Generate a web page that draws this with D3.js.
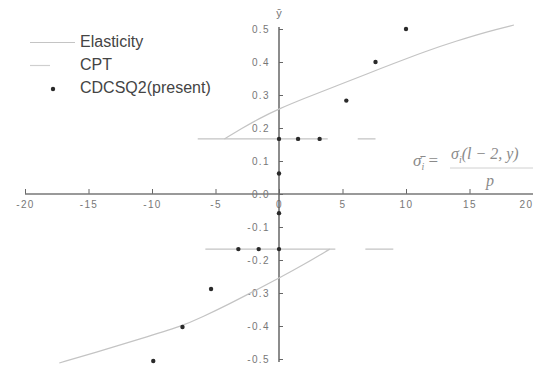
<!DOCTYPE html>
<html>
<head>
<meta charset="utf-8">
<script src="https://cdn.jsdelivr.net/npm/d3@7"></script>
<style>
  body { margin: 0; background: #fff; }
  svg { display: block; font-family: "Liberation Sans", Arial, sans-serif; }
  .tick text { fill: #777; font-size: 10px; letter-spacing: 1.4px; }
  .tick line { stroke: #666; }
</style>
</head>
<body>
<svg id="chart" width="533" height="370"></svg>
<script>
// x ticks / y ticks
const xTicks = [-20, -15, -10, -5, 0, 5, 10, 15, 20];
const yTicks = [-0.5, -0.4, -0.3, -0.2, -0.1, 0, 0.1, 0.2, 0.3, 0.4, 0.5];

// Elasticity: upper and lower branch [sigma, y]
const elasticUpper = [
  [-4.3, 0.167], [-3, 0.197], [-1.5, 0.23], [0, 0.258], [2, 0.29], [4.5, 0.327],
  [7, 0.365], [9, 0.395], [11.5, 0.432], [14, 0.464], [16.5, 0.493], [18.5, 0.512]
];
const elasticLower = [
  [-17.3, -0.512], [-14, -0.475], [-11, -0.44], [-7.6, -0.4], [-6, -0.372],
  [-4, -0.335], [-2, -0.295], [0, -0.255], [2, -0.213], [4, -0.167]
];

// CPT: horizontal segments
const cptUpper = [[-6.4, 0.167], [7.6, 0.167]];
const cptLower = [[-5.8, -0.167], [9.0, -0.167]];

// CDCSQ2(present) points
const presentPoints = [
  [10, 0.5], [7.6, 0.4], [5.3, 0.283], [3.2, 0.167], [1.5, 0.167], [0, 0.167],
  [0, 0.062], [0, -0.058], [0, -0.167], [-1.6, -0.167], [-3.2, -0.167],
  [-5.35, -0.288], [-7.6, -0.403], [-9.9, -0.506]
];

const legendNames = ['Elasticity', 'CPT', 'CDCSQ2(present)'];

const svg = d3.select('#chart');

const x = d3.scaleLinear().domain([-20, 20]).range([25, 533]);
const y = d3.scaleLinear().domain([-0.5, 0.5]).range([359, 29]);

const x0 = x(0);
const y0 = y(0);

// x axis through y = 0, ticks pointing up
const xAxis = svg.append('g')
  .attr('transform', `translate(0, ${y0})`)
  .call(d3.axisBottom(x).tickValues(xTicks).tickSize(-5).tickPadding(7).tickFormat(d => String(d)));
xAxis.select('.domain').remove();
// last label sits on the right edge, pull it in a bit
xAxis.selectAll('.tick text').filter(d => d === 20).attr('dx', -7);
svg.append('line')
  .attr('x1', x(-20)).attr('x2', 533)
  .attr('y1', y0).attr('y2', y0)
  .style('stroke', '#777').style('stroke-width', 1.3);

// y axis through x = 0, ticks pointing right, labels left
const yAxis = svg.append('g')
  .attr('transform', `translate(${x0}, 0)`)
  .call(d3.axisLeft(y).tickValues(yTicks).tickSize(-4).tickPadding(9).tickFormat(d => d.toFixed(1)));
yAxis.select('.domain').remove();
svg.append('line')
  .attr('x1', x0).attr('x2', x0)
  .attr('y1', y(0.5) - 2).attr('y2', y(-0.5) + 3)
  .style('stroke', '#666').style('stroke-width', 1.5);

svg.append('text')
  .attr('x', x0).attr('y', 17)
  .attr('text-anchor', 'middle')
  .style('font-size', '11px').style('fill', '#777')
  .text('ȳ');

// curves
const toPath = d3.line().x(d => x(d[0])).y(d => y(d[1]));
const toCurve = d3.line().x(d => x(d[0])).y(d => y(d[1])).curve(d3.curveBasis);

svg.selectAll('path.elastic')
  .data([elasticUpper, elasticLower])
  .enter()
  .append('path')
  .classed('elastic', true)
  .attr('d', toCurve)
  .style('fill', 'none')
  .style('stroke', '#c4c4c4')
  .style('stroke-width', 1.2);

svg.selectAll('path.cpt')
  .data([cptUpper, cptLower])
  .enter()
  .append('path')
  .classed('cpt', true)
  .attr('d', toPath)
  .style('fill', 'none')
  .style('stroke', '#c4c4c4')
  .style('stroke-width', 1.2)
  .style('stroke-dasharray', '130,30');

svg.selectAll('circle.present')
  .data(presentPoints)
  .enter()
  .append('circle')
  .classed('present', true)
  .attr('cx', d => x(d[0]))
  .attr('cy', d => y(d[1]))
  .attr('r', 2.2)
  .style('fill', '#2a2a2a');

// legend
const legend = svg.append('g').style('font-size', '16px').style('fill', '#444');
legend.append('line').attr('x1', 30).attr('x2', 75).attr('y1', 42.5).attr('y2', 42.5)
  .style('stroke', '#c4c4c4').style('stroke-width', 1.2);
legend.append('line').attr('x1', 30).attr('x2', 50).attr('y1', 65.5).attr('y2', 65.5)
  .style('stroke', '#cfcfcf').style('stroke-width', 1.2);
legend.append('circle').attr('cx', 53).attr('cy', 89).attr('r', 2.2).style('fill', '#2a2a2a');
legend.selectAll('text')
  .data(legendNames)
  .enter()
  .append('text')
  .attr('x', 80)
  .attr('y', (d, i) => 47 + i * 23)
  .text(d => d);

// formula sigma_i = sigma_i(l-2,y) / p
const formula = svg.append('g')
  .style('font-family', '"Liberation Serif", "DejaVu Serif", serif')
  .style('font-style', 'italic')
  .style('fill', '#8a8a8a');

const lhs = formula.append('text').attr('x', 413).attr('y', 166).style('font-size', '17px');
lhs.append('tspan').text('σ̄');
lhs.append('tspan').attr('dy', 4).style('font-size', '10px').text('i');
lhs.append('tspan').attr('dy', -4).style('font-style', 'normal').text(' = ');

const num = formula.append('text').attr('x', 451).attr('y', 159).style('font-size', '16px');
num.append('tspan').text('σ');
num.append('tspan').attr('dy', 4).style('font-size', '10px').text('i');
num.append('tspan').attr('dy', -4).text('(l − 2, y)');

formula.append('line')
  .attr('x1', 450).attr('x2', 533).attr('y1', 168).attr('y2', 168)
  .style('stroke', '#d0d0d0').style('stroke-width', 1);

formula.append('text').attr('x', 486).attr('y', 186).style('font-size', '16px').text('p');
</script>
</body>
</html>
